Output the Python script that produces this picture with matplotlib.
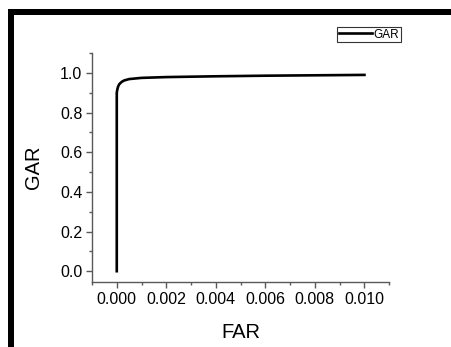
import matplotlib
matplotlib.use("Agg")
import matplotlib.pyplot as plt
from matplotlib.patches import Rectangle

plt.rcParams['font.family'] = ['Liberation Sans', 'DejaVu Sans']

# ROC-style curve, values
far = [0.0, 0.0, 0.00002, 0.00005, 0.0001, 0.0002, 0.0003, 0.0005,
       0.001, 0.002, 0.004, 0.006, 0.008, 0.010]
gar = [0.0, 0.90, 0.915, 0.93, 0.943, 0.955, 0.962, 0.969,
       0.975, 0.979, 0.983, 0.986, 0.988, 0.990]

x_ticks = [0.000, 0.002, 0.004, 0.006, 0.008, 0.010]
y_ticks = [0.0, 0.2, 0.4, 0.6, 0.8, 1.0]

fig = plt.figure(figsize=(4.51, 3.47), dpi=100)
ax = fig.add_axes([0.204, 0.187, 0.659, 0.66])

ax.plot(far, gar, color='black', linewidth=1.9, label='GAR')

ax.set_xlim(-0.001, 0.011)
ax.set_ylim(-0.055, 1.10)
ax.set_xticks(x_ticks)
ax.set_xticklabels(['%.3f' % v for v in x_ticks])
ax.set_yticks(y_ticks)
ax.set_yticklabels(['%.1f' % v for v in y_ticks])
ax.set_xticks([0.001, 0.003, 0.005, 0.007, 0.009, 0.011, -0.001], minor=True)
ax.set_yticks([0.1, 0.3, 0.5, 0.7, 0.9, 1.1], minor=True)

for s in ['top', 'right']:
    ax.spines[s].set_visible(False)
for s in ['left', 'bottom']:
    ax.spines[s].set_color('0.35')
    ax.spines[s].set_linewidth(1.0)

ax.tick_params(which='major', direction='out', length=4, width=1, color='0.35',
               labelsize=11.5, pad=3)
ax.tick_params(which='minor', direction='out', length=2.5, width=1, color='0.35')

ax.set_xlabel('FAR', fontsize=14.5, labelpad=12)
ax.set_ylabel('GAR', fontsize=14.5, labelpad=12)

leg = ax.legend(loc='upper right', bbox_to_anchor=(1.04, 1.115), fontsize=8.5,
                frameon=True, fancybox=False, handlelength=2.8, handletextpad=0.15,
                borderpad=0.15, borderaxespad=0)
leg.get_frame().set_edgecolor('black')
leg.get_frame().set_linewidth(0.8)

# black page frame around the chart
W, H = 451.0, 347.0
fig.add_artist(Rectangle((8 / W, 1 - 15 / H), 1 - 8 / W, 6 / H,
                         transform=fig.transFigure, color='black', lw=0))
fig.add_artist(Rectangle((8 / W, 0), 6 / W, 1 - 9 / H,
                         transform=fig.transFigure, color='black', lw=0))

fig.savefig('out.png', dpi=100)
